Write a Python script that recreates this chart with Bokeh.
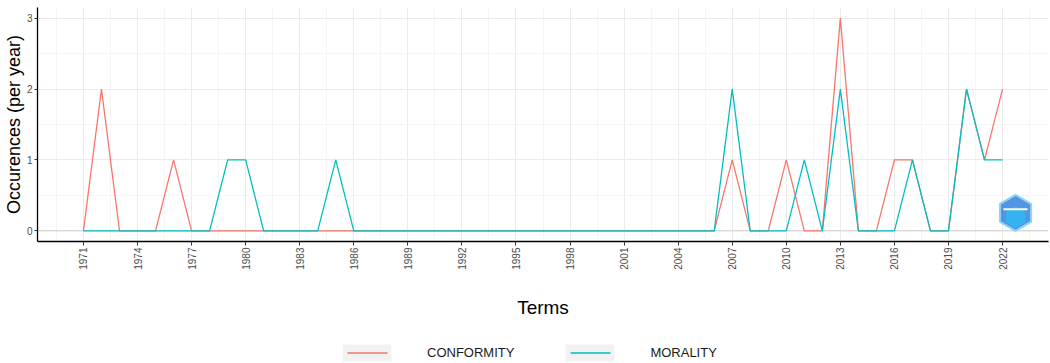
import math
import numpy as np
from bokeh.plotting import figure
from bokeh.layouts import column
from bokeh.models import FixedTicker, Range1d, Span, Legend, LegendItem
from bokeh.embed import file_html
from bokeh.resources import INLINE

# ---------------- data ----------------
years = list(range(1971, 2023))
conformity = [0, 2, 0, 0, 0, 1, 0,
              0, 0, 0, 0, 0, 0, 0, 0, 0, 0, 0, 0, 0, 0, 0, 0, 0, 0, 0, 0, 0, 0, 0, 0, 0, 0, 0, 0, 0,
              1, 0, 0, 1, 0, 0, 3, 0, 0, 1, 1, 0, 0, 2, 1, 2]
morality = [0, 0, 0, 0, 0, 0, 0, 0,
            1, 1,
            0, 0, 0, 0,
            1,
            0, 0, 0, 0, 0, 0, 0, 0, 0, 0, 0, 0, 0, 0, 0, 0, 0, 0, 0, 0, 0,
            2, 0, 0, 0, 1, 0, 2, 0, 0, 0, 1, 0, 0, 2, 1, 1]
series_names = ["CONFORMITY", "MORALITY"]
tick_labels = ["1971", "1974", "1977", "1980", "1983", "1986", "1989", "1992", "1995",
               "1998", "2001", "2004", "2007", "2010", "2013", "2016", "2019", "2022"]
y_tick_values = [0, 1, 2, 3]

RED = "#F8766D"
TEAL = "#00BFC4"
FONT = "Liberation Sans"

# ggplot-like 5% expansion
x0, x1 = min(years), max(years)
xpad = (x1 - x0) * 0.05
allv = conformity + morality
y0, y1 = min(allv), max(allv)
ypad = (y1 - y0) * 0.05

p = figure(width=1050, height=340, output_backend="svg", toolbar_location=None,
           x_range=Range1d(x0 - xpad, x1 + xpad), y_range=Range1d(y0 - ypad, y1 + ypad),
           min_border_left=30, min_border_right=2, min_border_top=7, min_border_bottom=99)
p.outline_line_color = None
p.background_fill_color = "white"
p.border_fill_color = "white"

x_ticks = [int(s) for s in tick_labels]
x_minor = [x_ticks[0] - 1.5] + [t + 1.5 for t in x_ticks]
p.xaxis.ticker = FixedTicker(ticks=x_ticks, minor_ticks=x_minor)
p.xaxis.major_label_overrides = {t: s for t, s in zip(x_ticks, tick_labels)}
y_minor = [v + 0.5 for v in y_tick_values[:-1]]
p.yaxis.ticker = FixedTicker(ticks=y_tick_values, minor_ticks=y_minor)

for g in (p.xgrid, p.ygrid):
    g.grid_line_color = "#ebebeb"
    g.grid_line_width = 1
    g.minor_grid_line_color = "#f5f5f5"
    g.minor_grid_line_width = 1

for ax in (p.xaxis, p.yaxis):
    ax.axis_line_color = "black"
    ax.axis_line_width = 1.3
    ax.major_tick_line_color = "#333333"
    ax.minor_tick_line_color = None
    ax.major_tick_in = 0
    ax.major_label_text_font = FONT
    ax.major_label_text_font_size = "10px"
    ax.major_label_text_color = "#4d4d4d"
    ax.axis_label_text_font = FONT
    ax.axis_label_text_font_style = "normal"
    ax.axis_label_text_color = "black"

p.xaxis.major_tick_out = 4
p.xaxis.major_label_standoff = 2
p.xaxis.major_label_orientation = math.pi / 2
p.xaxis.axis_label = "Terms"
p.xaxis.axis_label_text_font_size = "19px"
p.xaxis.axis_label_standoff = 24

p.yaxis.major_tick_out = 3
p.yaxis.major_label_standoff = 1
p.yaxis.axis_label = "Occurences (per year)"
p.yaxis.axis_label_text_font_size = "18px"
p.yaxis.axis_label_standoff = 0

p.add_layout(Span(location=0, dimension="width", line_color="#d0d0d0", line_width=1, level="underlay"))

r_conf = p.line(years, conformity, line_color=RED, line_width=1.3)
r_mor = p.line(years, morality, line_color=TEAL, line_width=1.3)

# watermark logo (decoration)
logo_x, logo_y = 2022.72, 0.255
p.scatter([logo_x], [logo_y], marker="hex", size=36, angle=math.pi / 2,
          fill_color="#4a8fe0", line_color="#8fd3f7", line_width=2, fill_alpha=0.95)
p.scatter([logo_x], [logo_y - 0.06], marker="hex", size=22, angle=math.pi / 2,
          fill_color="#35b2f0", line_color=None)
p.scatter([logo_x], [logo_y + 0.05], marker="dash", size=24,
          line_color="white", line_width=2)

# ---------------- legend strip ----------------
pl = figure(width=1050, height=23, output_backend="svg", toolbar_location=None,
            x_range=Range1d(0, 1), y_range=Range1d(0, 1),
            x_axis_location=None, y_axis_location=None, min_border=0)
pl.grid.visible = False
pl.outline_line_color = None
pl.background_fill_color = "white"
pl.border_fill_color = "white"

nan = [np.nan]
bg1 = pl.rect(x=nan, y=nan, width=1, height=1, fill_color="#f2f2f2", line_color=None)
k1 = pl.line(x=nan, y=nan, line_color=RED, line_width=1.3, line_dash="0 11 40 10")
bg2 = pl.rect(x=nan, y=nan, width=1, height=1, fill_color="#f2f2f2", line_color=None)
k2 = pl.line(x=nan, y=nan, line_color=TEAL, line_width=1.3, line_dash="0 11 40 10")

legend = Legend(items=[LegendItem(label=series_names[0], renderers=[bg1, k1]),
                       LegendItem(label=series_names[1], renderers=[bg2, k2])],
                orientation="horizontal", location=(299, 0),
                glyph_width=61, glyph_height=21, label_standoff=30, spacing=45,
                padding=0, margin=0, border_line_alpha=0, background_fill_alpha=0,
                label_text_font=FONT, label_text_font_size="13px", label_text_color="#1a1a1a")
pl.add_layout(legend, "center")

layout = column(p, pl, spacing=0)
open("out.html", "w").write(file_html(layout, INLINE))
